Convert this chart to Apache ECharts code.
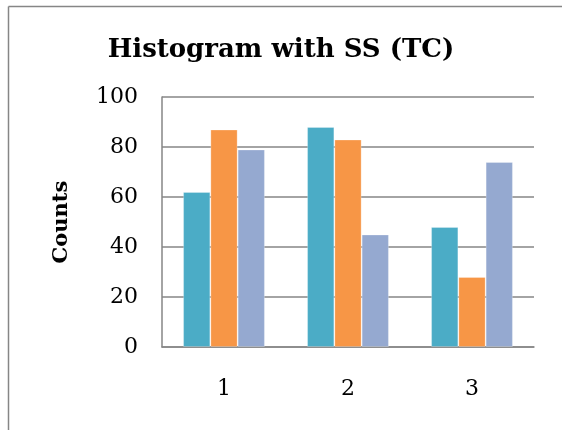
<!DOCTYPE html>
<html>
<head>
<meta charset="utf-8">
<script src="https://cdn.jsdelivr.net/npm/echarts@6/dist/echarts.min.js"></script>
<style>
  html, body { margin: 0; padding: 0; background: #fff; }
  #chart { width: 562px; height: 430px; }
</style>
</head>
<body>
<div id="chart"></div>
<script>
// Histogram data: three groups per bin
const categories = ['1', '2', '3'];
const seriesA = [62, 88, 48];
const seriesB = [87, 83, 28];
const seriesC = [79, 45, 74];
const yTicks = { min: 0, max: 100, interval: 20 };

const FONT = 'DejaVu Serif';
const GRID_GRAY = '#868686';

const chart = echarts.init(document.getElementById('chart'), null, { renderer: 'canvas' });

function barSeries(name, data, color) {
  return {
    name: name,
    type: 'bar',
    data: data,
    barGap: '0%',
    barCategoryGap: '34%',
    itemStyle: { color: color, borderColor: 'rgba(255,255,255,0.25)', borderWidth: 1 }
  };
}

chart.setOption({
  animation: false,
  backgroundColor: '#ffffff',
  title: {
    text: 'Histogram with SS (TC)',
    left: 'center',
    top: 32,
    textStyle: { fontFamily: FONT, fontWeight: 'bold', fontSize: 26, color: '#000' }
  },
  // chart-area frame: top and left edges
  graphic: [
    {
      type: 'line',
      shape: { x1: 8.5, y1: 6.5, x2: 562, y2: 6.5 },
      style: { stroke: GRID_GRAY, lineWidth: 1.5 },
      silent: true
    },
    {
      type: 'line',
      shape: { x1: 8.5, y1: 6.5, x2: 8.5, y2: 430 },
      style: { stroke: GRID_GRAY, lineWidth: 1.5 },
      silent: true
    }
  ],
  grid: { left: 162, right: 28, top: 97, bottom: 83 },
  xAxis: {
    type: 'category',
    data: categories,
    axisLine: { lineStyle: { color: GRID_GRAY, width: 1.5 } },
    axisTick: { show: false },
    axisLabel: { fontFamily: FONT, fontSize: 22, color: '#000', margin: 31 }
  },
  yAxis: {
    type: 'value',
    min: yTicks.min,
    max: yTicks.max,
    interval: yTicks.interval,
    name: 'Counts',
    nameLocation: 'middle',
    nameGap: 90,
    nameTextStyle: { fontFamily: FONT, fontWeight: 'bold', fontSize: 21, color: '#000' },
    axisLine: { show: true, lineStyle: { color: GRID_GRAY, width: 1.5 } },
    axisTick: { show: false },
    axisLabel: { fontFamily: FONT, fontSize: 22, color: '#000', margin: 24 },
    splitLine: { lineStyle: { color: GRID_GRAY, width: 1.5 } }
  },
  series: [
    barSeries('A', seriesA, '#4BACC6'),
    barSeries('B', seriesB, '#F79646'),
    barSeries('C', seriesC, '#95A9D0')
  ]
});
</script>
</body>
</html>
